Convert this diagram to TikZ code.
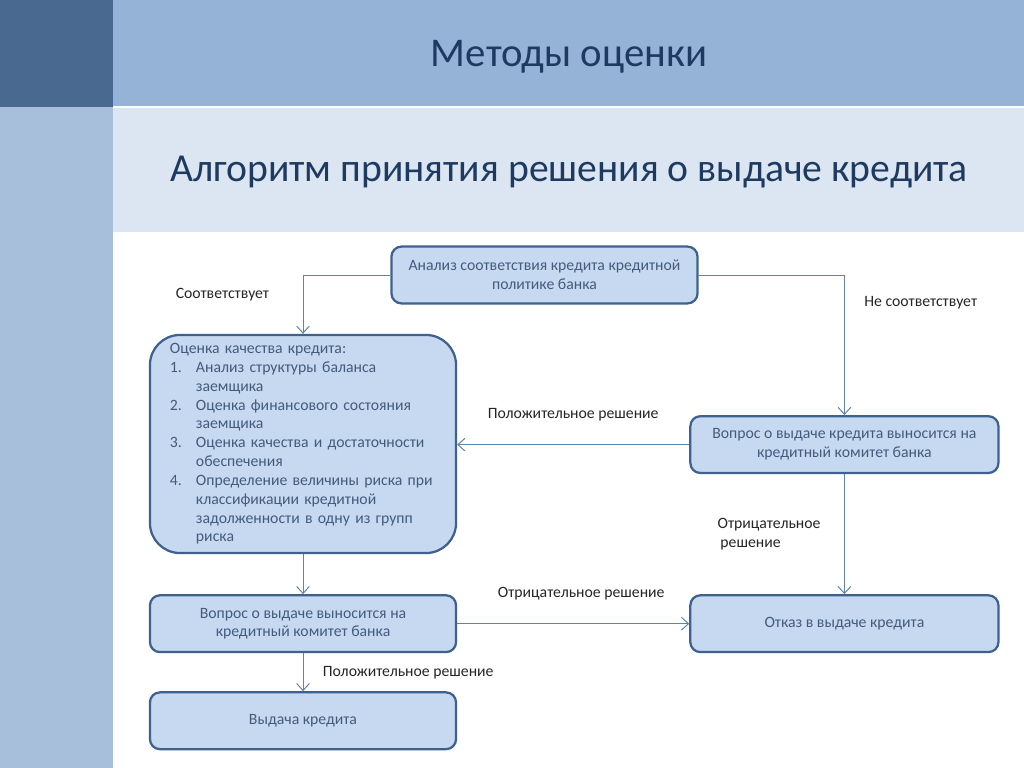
\documentclass[tikz,border=0pt]{standalone}
\usepackage{fontspec}
\setmainfont{Carlito}
\usepackage{xcolor}
\definecolor{bandtop}{HTML}{95B3D7}
\definecolor{bandsub}{HTML}{DCE6F2}
\definecolor{stripdark}{HTML}{4A6990}
\definecolor{striplight}{HTML}{A8BFDB}
\definecolor{titleblue}{HTML}{1F3A60}
\definecolor{boxfill}{HTML}{C6D9F1}
\definecolor{boxline}{HTML}{3E6190}
\definecolor{boxtext}{HTML}{435B7C}
\definecolor{arrline}{HTML}{5F82B2}
\usepackage{tikz}
\usetikzlibrary{arrows.meta,positioning}

\begin{document}
\begin{tikzpicture}[x=0.025cm,y=-0.025cm,>={Straight Barb[length=5pt,width=9pt]},
                    font=\fontsize{11.2}{13.4}\selectfont]
              \tikzstyle{blok}=[draw=boxline,fill=boxfill,text=boxtext,line width=1.6pt,
                                rounded corners=0.25cm,minimum width=7.65cm,minimum height=1.42cm,align=center]
              \tikzstyle{e}=[->,color=arrline,line width=0.7pt]
              \tikzstyle{lbl}=[text=black!85,align=left,inner sep=1pt]

              \useasboundingbox (0,0) rectangle (1024,768);
              \fill[white]      (0,0)   rectangle (1024,768);
              \fill[bandtop]    (113,0) rectangle (1024,106);
              \fill[bandsub]    (113,108) rectangle (1024,232);
              \fill[stripdark]  (0,0)   rectangle (113,107);
              \fill[striplight] (0,107) rectangle (113,768);

              \node[text=titleblue,font=\fontsize{29}{34}\selectfont] (title) at (569,57)  {Методы оценки};
              \node[text=titleblue,font=\fontsize{28.2}{34}\selectfont] (sub) at (569,172) {Алгоритм принятия решения о выдаче кредита};

              \node[blok]            (A) at (544.5,275) {Анализ соответствия кредита кредитной\\политике банка};
              \node[blok,rounded corners=0.75cm,minimum height=5.45cm,text width=6.65cm,
                    inner xsep=0.5cm,align=left] (B) at (303,444)
                    {\begin{tabular}{@{}p{0.65cm}@{}l@{}}
                     \multicolumn{2}{@{}l@{}}{Оценка качества кредита:}\\
                     1. & Анализ структуры баланса\\
                        & заемщика\\
                     2. & Оценка финансового состояния\\
                        & заемщика\\
                     3. & Оценка качества и достаточности\\
                        & обеспечения\\
                     4. & Определение величины риска при\\
                        & классификации кредитной\\
                        & задолженности в одну из групп\\
                        & риска
                     \end{tabular}};
              \node[blok]            (D) [below=1cm of B]     {Вопрос о выдаче выносится на\\кредитный комитет банка};
              \node[blok]            (F) [below=0.95cm of D]  {Выдача кредита};
              \node[blok,minimum width=7.7cm] (E) [right=5.8cm of D] {Отказ в выдаче кредита};
              \node[blok,minimum width=7.7cm] (C) [above=3cm of E]   {Вопрос о выдаче кредита выносится на\\кредитный комитет банка};

              \draw[e] (A.west) -| node[lbl,pos=0.67,left=0.8cm] (l1) {Соответствует} (B.north);
              \draw[e] (A.east) -| node[lbl,pos=0.6,right=0.45cm] (l2) {Не соответствует} (C.north);
              \draw[e] (C.west) -- node[lbl,midway,above=0.55cm] (l3) {Положительное решение} (B.east |- C.west);
              \draw[e] (C.south) -- node[lbl,midway,left=0.55cm] (l4) {Отрицательное\\\hspace{2pt}решение} (E.north);
              \draw[e] (B.south) -- (D.north);
              \draw[e] (D.east) -- node[lbl,midway,above=0.55cm,xshift=0.2cm] (l5) {Отрицательное решение} (E.west);
              \draw[e] (D.south) -- node[lbl,midway,right=0.45cm] (l6) {Положительное решение} (F.north);

       \end{tikzpicture}
\end{document}
